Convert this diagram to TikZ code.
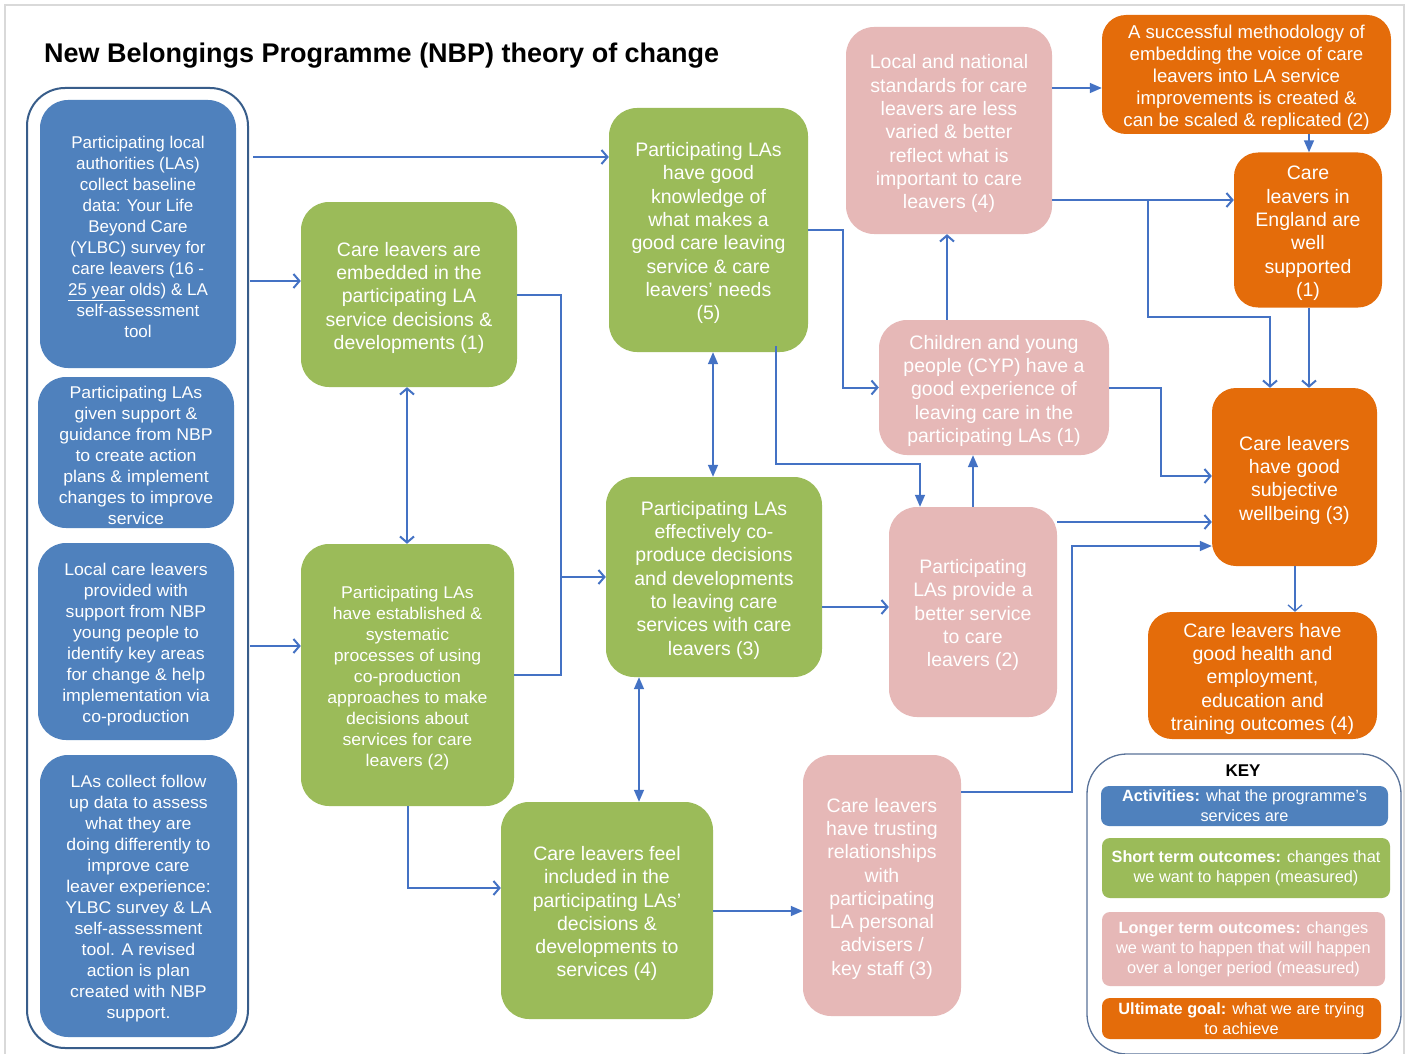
\documentclass[tikz,border=0pt]{standalone}
\usepackage{fontspec}
\setmainfont{Liberation Sans}
\newfontfamily\widesans[FakeStretch=1.04]{Liberation Sans}
\usetikzlibrary{arrows.meta}
\definecolor{cblue}{RGB}{79,129,189}
\definecolor{cgreen}{RGB}{155,187,89}
\definecolor{cpink}{RGB}{230,184,183}
\definecolor{corange}{RGB}{228,108,10}
\definecolor{carrow}{RGB}{68,114,196}
\definecolor{ccont}{RGB}{56,93,138}
\definecolor{ckey}{RGB}{90,115,153}
\definecolor{cframe}{RGB}{217,217,217}
\newcommand\topstr{\rule{0pt}{1.05em}}
\tikzset{
  box/.style={rounded corners=28pt, text=white, align=center, inner sep=0pt,
    font=\fontsize{19.5pt}{23.3pt}\selectfont},
  bbox/.style={box, fill=cblue, font=\widesans\fontsize{17pt}{21pt}\selectfont},
  gbox/.style={box, fill=cgreen},
  pbox/.style={box, fill=cpink},
  obox/.style={box, fill=corange, rounded corners=24pt},
  kbox/.style={rounded corners=8pt, text=white, align=center, inner sep=0pt,
    font=\fontsize{16.3pt}{20pt}\selectfont},
  conn/.style={carrow, line width=2pt, -{Straight Barb[length=6pt,width=14pt]}},
  dconn/.style={carrow, line width=2pt, {Straight Barb[length=6pt,width=14pt]}-{Straight Barb[length=6pt,width=14pt]}},
  fconn/.style={carrow, line width=1.5pt, -{Triangle[length=12pt,width=10pt]}},
  dfconn/.style={carrow, line width=1.5pt, {Triangle[length=12pt,width=10pt]}-{Triangle[length=12pt,width=10pt]}},
  lineonly/.style={carrow, line width=2pt},
}
\begin{document}
\begin{tikzpicture}[x=1pt,y=-1pt]
\useasboundingbox (0,0) rectangle (1409,1054);
\clip (0,0) rectangle (1409,1054);
\fill[white] (0,0) rectangle (1409,1054);
\draw[cframe, line width=1.5pt] (5,5) rectangle (1404,1080);

\node[anchor=west, font=\bfseries\fontsize{27pt}{32pt}\selectfont, inner sep=0pt] (title) at (44,55.5) {New Belongings Programme (NBP) theory of change};

% container of activities
\node[draw=ccont, line width=2pt, rounded corners=38pt, minimum width=221pt, minimum height=960pt] (cont) at (137.5,568) {};

% activities
\node[bbox, font=\fontsize{17pt}{21pt}\selectfont, minimum width=196pt, minimum height=268pt] (a1) at (138,234) {\topstr Participating local\\authorities (LAs)\\collect baseline\\data: Your Life\\Beyond Care\\(YLBC) survey for\\care leavers (16 -\\\underline{25 year} olds) \& LA\\self-assessment\\tool};
\node[bbox, minimum width=196pt, minimum height=151pt] (a2) at (136,452.5) {\topstr Participating LAs\\given support \&\\guidance from NBP\\to create action\\plans \& implement\\changes to improve\\service};
\node[bbox, minimum width=196pt, minimum height=197pt] (a3) at (136,641.5) {\topstr Local care leavers\\provided with\\support from NBP\\young people to\\identify key areas\\for change \& help\\implementation via\\co-production};
\node[bbox, minimum width=197pt, minimum height=282pt] (a4) at (138.5,896) {\topstr LAs collect follow\\up data to assess\\what they are\\doing differently to\\improve care\\leaver experience:\\YLBC survey \& LA\\self-assessment\\tool. A revised\\action is plan\\created with NBP\\support.};

% short term outcomes
\node[gbox, minimum width=216pt, minimum height=185pt] (A) at (409,294.5) {\topstr Care leavers are\\embedded in the\\participating LA\\service decisions \&\\developments (1)};
\node[gbox, minimum width=199pt, minimum height=244pt] (B) at (708.5,230) {\topstr Participating LAs\\have good\\knowledge of\\what makes a\\good care leaving\\service \& care\\leavers’ needs\\(5)};
\node[gbox, font=\widesans\fontsize{17pt}{21pt}\selectfont, minimum width=213pt, minimum height=262pt] (C) at (407.5,675) {\topstr Participating LAs\\have established \&\\systematic\\processes of using\\co-production\\approaches to make\\decisions about\\services for care\\leavers (2)};
\node[gbox, minimum width=216pt, minimum height=200pt] (D) at (714,577) {\topstr Participating LAs\\effectively co-\\produce decisions\\and developments\\to leaving care\\services with care\\leavers (3)};
\node[gbox, minimum width=212pt, minimum height=217pt] (E) at (607,910.5) {\topstr Care leavers feel\\included in the\\participating LAs’\\decisions \&\\developments to\\services (4)};

% longer term outcomes
\node[pbox, minimum width=206pt, minimum height=207pt] (F) at (949,130.5) {\topstr Local and national\\standards for care\\leavers are less\\varied \& better\\reflect what is\\important to care\\leavers (4)};
\node[pbox, minimum width=230pt, minimum height=135pt] (G) at (994,387.5) {\topstr Children and young\\people (CYP) have a\\good experience of\\leaving care in the\\participating LAs (1)};
\node[pbox, minimum width=168pt, minimum height=210pt] (H) at (973,612) {\topstr Participating\\LAs provide a\\better service\\to care\\leavers (2)};
\node[pbox, minimum width=158pt, minimum height=261pt] (I) at (882,885.5) {\topstr Care leavers\\have trusting\\relationships\\with\\participating\\LA personal\\advisers /\\key staff (3)};

% ultimate goals
\node[obox, font=\fontsize{18.6pt}{22pt}\selectfont, minimum width=289pt, minimum height=119pt] (J) at (1246.5,74.5) {\topstr A successful methodology of\\embedding the voice of care\\leavers into LA service\\improvements is created \&\\can be scaled \& replicated (2)};
\node[obox, minimum width=148pt, minimum height=155pt] (K) at (1308,230) {\topstr Care\\leavers in\\England are\\well\\supported\\(1)};
\node[obox, minimum width=165pt, minimum height=178pt] (L) at (1294.5,477) {\topstr Care leavers\\have good\\subjective\\wellbeing (3)};
\node[obox, minimum width=229pt, minimum height=127pt] (M) at (1262.5,675.5) {\topstr Care leavers have\\good health and\\employment,\\education and\\training outcomes (4)};

% key
\node[draw=ckey, line width=1.3pt, rounded corners=40pt, minimum width=314pt, minimum height=300pt] (key) at (1244,904) {};
\node[font=\bfseries\fontsize{17pt}{20pt}\selectfont, inner sep=0pt] (keyt) at (1243,771) {KEY};
\node[kbox, fill=cblue, minimum width=287pt, minimum height=40pt] (k1) at (1244.5,806) {\textbf{Activities:} what the programme’s\\services are};
\node[kbox, fill=cgreen, minimum width=288pt, minimum height=60pt] (k2) at (1246,868) {\textbf{Short term outcomes:} changes that\\we want to happen (measured)};
\node[kbox, fill=cpink, minimum width=283pt, minimum height=74pt] (k3) at (1243.5,949) {\textbf{Longer term outcomes:} changes\\we want to happen that will happen\\over a longer period (measured)};
\node[kbox, fill=corange, minimum width=279pt, minimum height=41pt] (k4) at (1241.5,1018.5) {\textbf{Ultimate goal:} what we are trying\\to achieve};

% connectors
\coordinate (c1) at (253,157);
\coordinate (c2) at (250,281);
\coordinate (c3) at (250,646);
\draw[conn] (c1) -- (B.west |- c1);
\draw[conn] (c2) -- (A.west |- c2);
\draw[conn] (c3) -- (C.west |- c3);
\draw[lineonly] (A.east) -| (561,675) -- (C.east);
\draw[conn] (561,577) -- (D.west);
\draw[dconn] (A.south -| 407,0) -- (C.north -| 407,0);
\draw[dfconn] (B.south -| 713,0) -- (D.north -| 713,0);
\draw[dfconn] (D.south -| 639,0) -- (E.north -| 639,0);
\draw[conn] (C.south) |- (E.west |- 0,888);
\draw[fconn] (E.east |- 0,911) -- (I.west |- 0,911);
\draw[conn] (D.east |- 0,607) -- (H.west |- 0,607);
\draw[conn] (B.east) -| (843,387.5) -- (G.west);
\draw[fconn] (776,346) |- (920,464) -- (H.north -| 920,0);
\draw[fconn] (H.north -| 973,0) -- (G.south -| 973,0);
\draw[conn] (G.north -| 947,0) -- (F.south -| 947,0);
\draw[fconn] (F.east |- 0,88) -- (J.west |- 0,88);
\draw[fconn] (J.south -| 1309,0) -- (K.north -| 1309,0);
\draw[conn] (F.east |- 0,200) -- (K.west |- 0,200);
\draw[conn] (1148,200) |- (1270,317) -- (L.north -| 1270,0);
\draw[conn] (K.south -| 1309,0) -- (L.north -| 1309,0);
\draw[conn] (G.east) -| (1161,476) -- (L.west |- 0,476);
\draw[conn] (H.east |- 0,522) -- (L.west |- 0,522);
\draw[fconn] (I.east |- 0,792) -| (1072,546) -- (L.west |- 0,546);
\draw[conn, line width=1.3pt] (L.south -| 1295,0) -- (M.north -| 1295,0);
\end{tikzpicture}
\end{document}
